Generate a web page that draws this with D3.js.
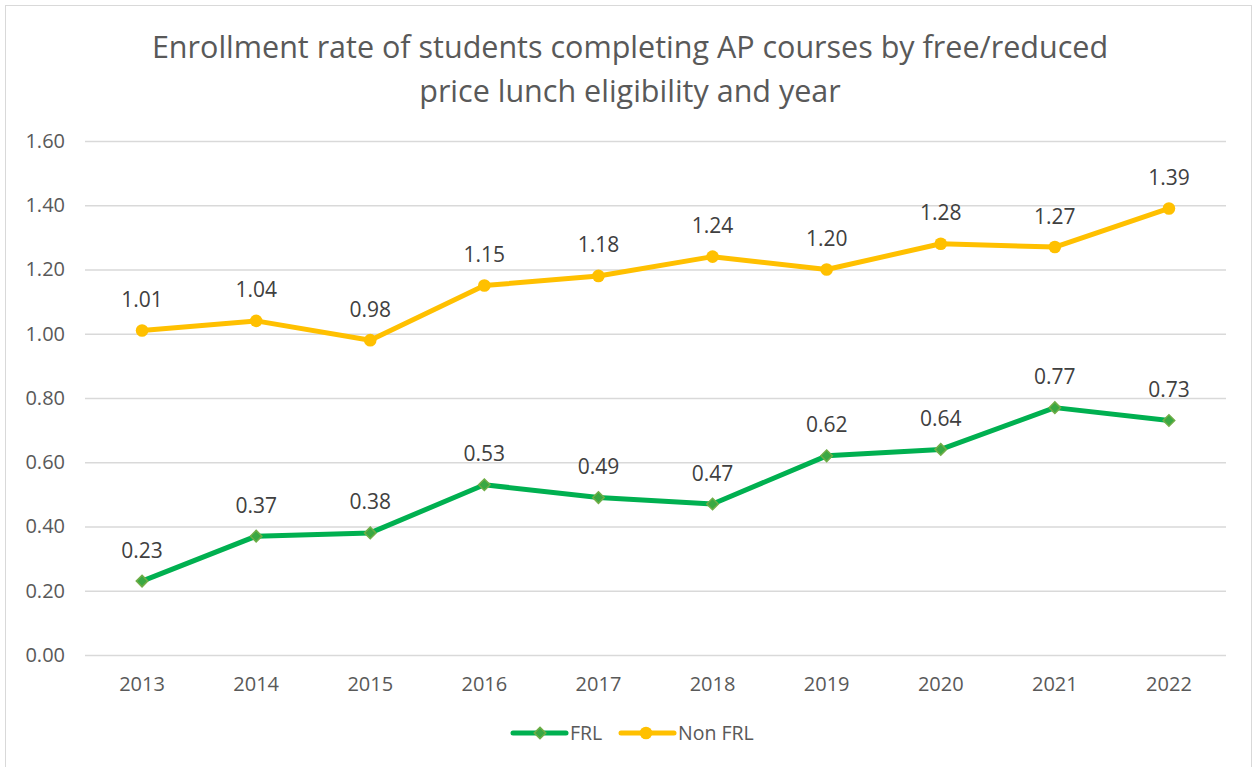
<!DOCTYPE html>
<html>
<head>
<meta charset="utf-8">
<script src="https://cdn.jsdelivr.net/npm/d3@7"></script>
<style>
  body { margin: 0; background: #fff; }
  svg { display: block; font-family: "Open Sans", sans-serif; }
</style>
</head>
<body>
<svg id="chart" width="1253" height="767"></svg>
<script>
var years = ["2013", "2014", "2015", "2016", "2017", "2018", "2019", "2020", "2021", "2022"];
var frl = [0.23, 0.37, 0.38, 0.53, 0.49, 0.47, 0.62, 0.64, 0.77, 0.73];
var nonFrl = [1.01, 1.04, 0.98, 1.15, 1.18, 1.24, 1.20, 1.28, 1.27, 1.39];
var yTicks = [0, 0.2, 0.4, 0.6, 0.8, 1.0, 1.2, 1.4, 1.6];
var titleLines = ["Enrollment rate of students completing AP courses by free/reduced", "price lunch eligibility and year"];

var margin = {top: 141, right: 27, bottom: 112, left: 85};
var width = 1253, height = 767;
var svg = d3.select("#chart");
var textColor = "#595959";

// chart border
svg.append("rect")
  .attr("x", 5.5).attr("y", 5.5)
  .attr("width", width - 7).attr("height", height - 4)
  .attr("fill", "none").attr("stroke", "#d9d9d9").attr("stroke-width", 1);

// title
svg.append("g").selectAll("text")
  .data(titleLines)
  .join("text")
  .attr("x", 630)
  .attr("y", function(d, i) { return 58 + i * 44; })
  .attr("text-anchor", "middle")
  .attr("fill", textColor)
  .style("font-size", "30.5px")
  .text(function(d) { return d; });

var x = d3.scaleBand()
  .domain(years)
  .range([margin.left, width - margin.right]);

var y = d3.scaleLinear()
  .domain([0, 1.6])
  .range([height - margin.bottom, margin.top]);

// gridlines + y axis labels
var yAxis = d3.axisLeft(y)
  .tickValues(yTicks)
  .tickSize(-(width - margin.left - margin.right))
  .tickPadding(20)
  .tickFormat(d3.format(".2f"));

var yg = svg.append("g")
  .attr("transform", "translate(" + margin.left + ",0)")
  .call(yAxis);
yg.select(".domain").remove();
yg.selectAll(".tick line").attr("stroke", "#d9d9d9").attr("stroke-width", 1.5);
yg.selectAll(".tick text").attr("fill", textColor).style("font-size", "20px").style("font-family", "Open Sans, sans-serif");

// x axis labels
var xAxis = d3.axisBottom(x).tickSize(0).tickPadding(22);
var xg = svg.append("g")
  .attr("transform", "translate(0," + y(0) + ")")
  .call(xAxis);
xg.select(".domain").remove();
xg.selectAll(".tick text").attr("fill", textColor).style("font-size", "20px").style("font-family", "Open Sans, sans-serif");

var series = [
  {name: "FRL", values: frl, color: "#00B050", marker: "diamond"},
  {name: "Non FRL", values: nonFrl, color: "#FFC000", marker: "circle"}
];

var line = d3.line()
  .x(function(d, i) { return x(years[i]) + x.bandwidth() / 2; })
  .y(function(d) { return y(d); });

var diamond = d3.symbol().type(d3.symbolDiamond2).size(85);

series.forEach(function(s) {
  var g = svg.append("g");
  g.append("path")
    .attr("d", line(s.values))
    .attr("fill", "none")
    .attr("stroke", s.color)
    .attr("stroke-width", 5)
    .attr("stroke-linejoin", "round");

  var pts = g.selectAll(".pt")
    .data(s.values)
    .join("g")
    .attr("transform", function(d, i) {
      return "translate(" + (x(years[i]) + x.bandwidth() / 2) + "," + y(d) + ")";
    });

  if (s.marker === "circle") {
    pts.append("circle").attr("r", 6.3).attr("fill", s.color);
  } else {
    pts.append("path").attr("d", diamond).attr("fill", "#3aa843").attr("stroke", "#70AD47").attr("stroke-width", 1.5);
  }

  pts.append("text")
    .attr("y", -23.5)
    .attr("text-anchor", "middle")
    .attr("fill", "#404040")
    .style("font-size", "21px")
    .text(function(d) { return d3.format(".2f")(d); });
});

// legend
var legend = svg.append("g");
var legendItems = [
  {s: series[0], x: 513},
  {s: series[1], x: 621}
];
legendItems.forEach(function(it) {
  var ly = 733;
  legend.append("line")
    .attr("x1", it.x).attr("x2", it.x + 53)
    .attr("y1", ly).attr("y2", ly)
    .attr("stroke", it.s.color).attr("stroke-width", 5)
    .attr("stroke-linecap", "round");
  if (it.s.marker === "circle") {
    legend.append("circle").attr("cx", it.x + 25).attr("cy", ly).attr("r", 6.3).attr("fill", it.s.color);
  } else {
    legend.append("path").attr("d", diamond)
      .attr("transform", "translate(" + (it.x + 27) + "," + ly + ")")
      .attr("fill", "#3aa843").attr("stroke", "#70AD47").attr("stroke-width", 1.5);
  }
  legend.append("text")
    .attr("x", it.x + 57).attr("y", ly + 7)
    .attr("fill", textColor)
    .style("font-size", "19.5px")
    .text(it.s.name);
});
</script>
</body>
</html>
